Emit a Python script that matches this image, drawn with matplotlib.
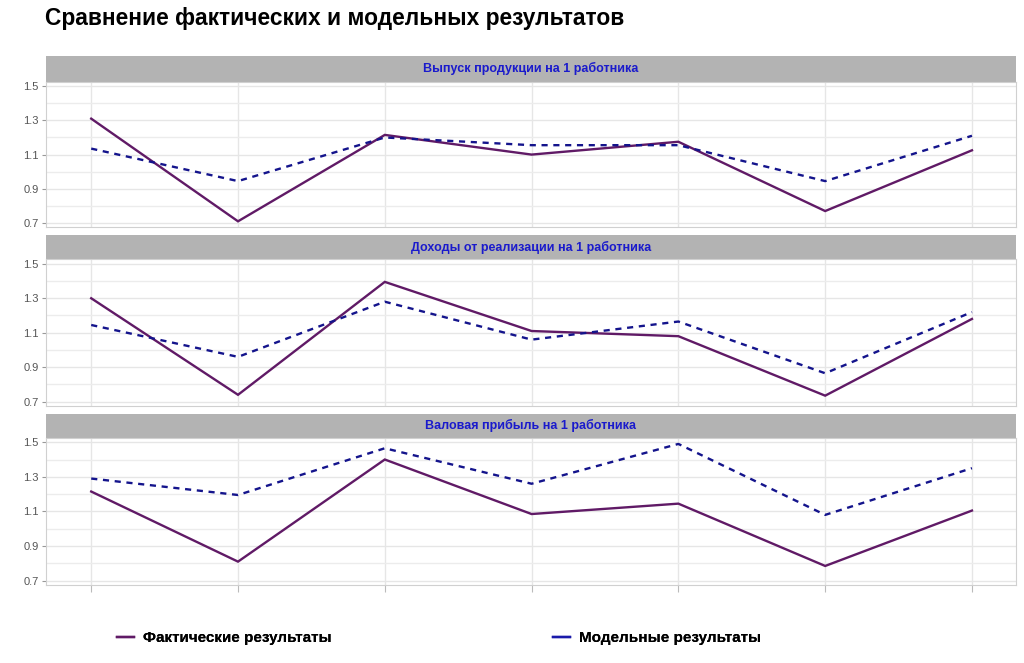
import numpy as np
import matplotlib
matplotlib.use("Agg")
import matplotlib.pyplot as plt
from matplotlib.lines import Line2D
from matplotlib.ticker import MultipleLocator

plt.rcParams['font.family'] = ['Liberation Sans', 'DejaVu Sans']

# --- data ---
periods = [1, 2, 3, 4, 5, 6, 7]
panel_titles = ["Выпуск продукции на 1 работника",
                "Доходы от реализации на 1 работника",
                "Валовая прибыль на 1 работника"]
fact_output = [1.31, 0.71, 1.215, 1.10, 1.175, 0.77, 1.125]
model_output = [1.135, 0.945, 1.20, 1.155, 1.155, 0.945, 1.21]
fact_revenue = [1.30, 0.74, 1.395, 1.11, 1.08, 0.735, 1.18]
model_revenue = [1.145, 0.96, 1.28, 1.06, 1.165, 0.865, 1.22]
fact_profit = [1.215, 0.81, 1.40, 1.085, 1.145, 0.785, 1.105]
model_profit = [1.29, 1.195, 1.465, 1.26, 1.49, 1.08, 1.35]

fact_series = [fact_output, fact_revenue, fact_profit]
model_series = [model_output, model_revenue, model_profit]

FACT_COLOR = "#601a66"
MODEL_COLOR = "#14148c"
STRIP_COLOR = "#b3b3b3"
GRID_COLOR = "#e6e6e6"

W, H = 1024, 663
fig = plt.figure(figsize=(W / 100, H / 100), dpi=100)

def px_axes(left, top, right, bottom):
    return fig.add_axes([left / W, 1 - bottom / H, (right - left) / W, (bottom - top) / H])

# (strip top, plot top, plot bottom) in pixels
layout = [(56, 81.7, 227.3), (235, 259.3, 406), (414, 437.7, 585)]
x_left, x_right = 45.7, 1016

for i, (s_top, p_top, p_bot) in enumerate(layout):
    strip = px_axes(x_left, s_top, x_right, p_top)
    strip.set_facecolor(STRIP_COLOR)
    strip.set_xticks([]); strip.set_yticks([])
    for sp in strip.spines.values():
        sp.set_visible(False)
    strip.text(0.5, 0.5, panel_titles[i], ha='center', va='center',
               color='#1a1acc', fontsize=9, fontweight='bold',
               transform=strip.transAxes)

    ax = px_axes(x_left, p_top, x_right, p_bot)
    ax.plot(periods, fact_series[i], color=FACT_COLOR, lw=1.7, solid_joinstyle='miter')
    ax.plot(periods, model_series[i], color=MODEL_COLOR, lw=1.7, dashes=(2.6, 2.4))

    ax.set_xlim(0.69, 7.3)
    ax.set_ylim(0.675, 1.526)
    ax.set_xticks(periods)
    ax.set_xticklabels([])
    ax.yaxis.set_minor_locator(MultipleLocator(0.1))
    ax.set_yticks([0.7, 0.9, 1.1, 1.3, 1.5])
    ax.set_yticklabels(["0.7", "0.9", "1.1", "1.3", "1.5"])
    ax.grid(True, which='major', color=GRID_COLOR, lw=1.0)
    ax.grid(True, which='minor', axis='y', color='#ececec', lw=1.0)
    ax.set_axisbelow(True)
    ax.tick_params(axis='y', which='major', length=3, width=0.8, color='#999999',
                   labelsize=8, labelcolor='#555555', pad=2)
    ax.tick_params(axis='y', which='minor', length=0)
    if i < 2:
        ax.tick_params(axis='x', length=0)
    else:
        ax.tick_params(axis='x', length=5, width=0.8, color='#bbbbbb')
    for sp in ax.spines.values():
        sp.set_color('#d0d0d0')
        sp.set_linewidth(0.8)

fig.text(45 / W, 1 - 19 / H, "Сравнение фактических и модельных результатов",
         ha='left', va='center', fontsize=16.4, fontweight='bold')

handles = [Line2D([], [], color=FACT_COLOR, lw=1.7),
           Line2D([], [], color='#1a1aaa', lw=1.7)]
labels = ["Фактические результаты", "Модельные результаты"]
for h, lab, xpx in zip(handles, labels, [117, 553]):
    leg = fig.legend([h], [lab], loc='center left',
                     bbox_to_anchor=(xpx / W, 1 - 638 / H), frameon=False,
                     borderpad=0, borderaxespad=0, handlelength=1.1,
                     handletextpad=0.6, prop={'size': 11, 'weight': 'bold'})
    fig.add_artist(leg)

fig.savefig("out.png", dpi=100)
